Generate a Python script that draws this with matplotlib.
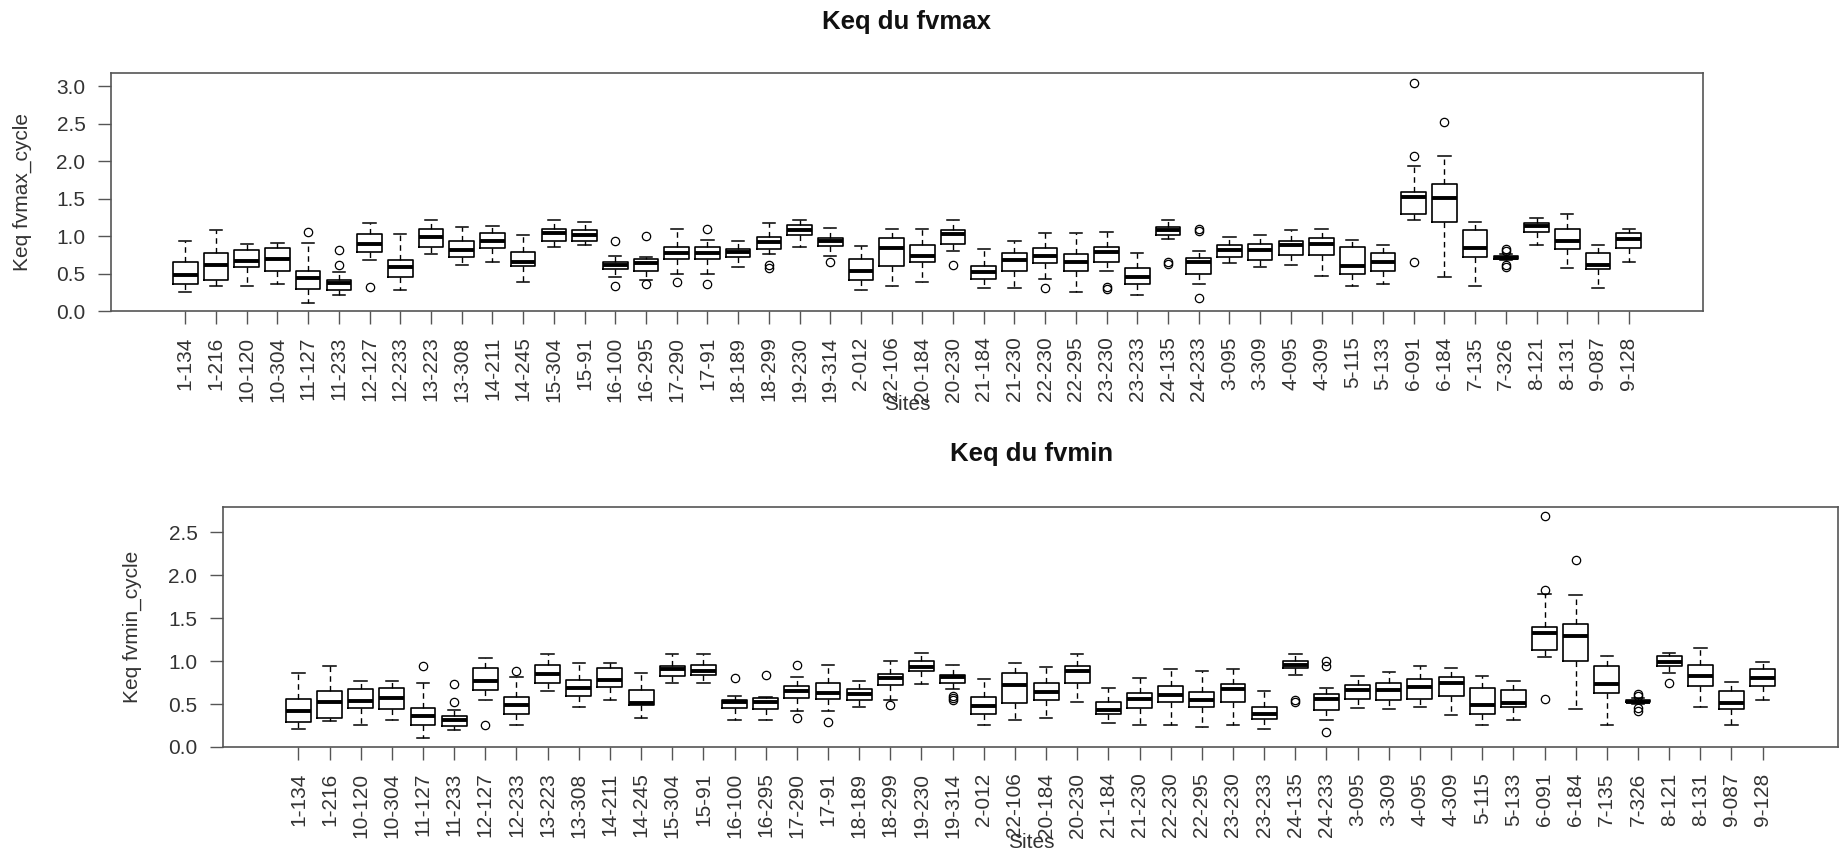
import matplotlib
matplotlib.use("Agg")
import matplotlib.pyplot as plt

plt.rcParams['font.family'] = ['Liberation Sans', 'DejaVu Sans']

sites = ["1-134", "1-216", "10-120", "10-304", "11-127", "11-233", "12-127", "12-233",
         "13-223", "13-308", "14-211", "14-245", "15-304", "15-91", "16-100", "16-295",
         "17-290", "17-91", "18-189", "18-299", "19-230", "19-314", "2-012", "22-106",
         "20-184", "20-230", "21-184", "21-230", "22-230", "22-295", "23-230", "23-233",
         "24-135", "24-233", "3-095", "3-309", "4-095", "4-309", "5-115", "5-133",
         "6-091", "6-184", "7-135", "7-326", "8-121", "8-131", "9-087", "9-128"]

# ---- Keq du fvmax ----
max_wlo = [0.25, 0.34, 0.33, 0.36, 0.11, 0.21, 0.68, 0.28, 0.76, 0.61, 0.66, 0.39, 0.86, 0.88, 0.45, 0.41,
           0.50, 0.50, 0.59, 0.76, 0.86, 0.74, 0.28, 0.34, 0.39, 0.80, 0.31, 0.31, 0.43, 0.25, 0.54, 0.21,
           0.96, 0.36, 0.64, 0.59, 0.62, 0.47, 0.33, 0.36, 1.21, 0.45, 0.33, 0.68, 0.88, 0.57, 0.31, 0.66]
max_q1 = [0.36, 0.42, 0.59, 0.54, 0.30, 0.28, 0.79, 0.45, 0.85, 0.72, 0.84, 0.60, 0.94, 0.94, 0.56, 0.53,
          0.69, 0.69, 0.72, 0.83, 1.02, 0.87, 0.42, 0.60, 0.65, 0.89, 0.43, 0.54, 0.64, 0.54, 0.65, 0.36,
          1.02, 0.50, 0.72, 0.68, 0.75, 0.75, 0.50, 0.54, 1.29, 1.19, 0.72, 0.70, 1.05, 0.83, 0.56, 0.84]
max_med = [0.48, 0.61, 0.67, 0.69, 0.44, 0.37, 0.90, 0.59, 0.99, 0.82, 0.93, 0.65, 1.04, 1.02, 0.62, 0.64,
           0.77, 0.77, 0.79, 0.92, 1.08, 0.93, 0.54, 0.84, 0.73, 1.03, 0.52, 0.68, 0.74, 0.66, 0.79, 0.46,
           1.08, 0.66, 0.82, 0.82, 0.88, 0.90, 0.60, 0.65, 1.52, 1.51, 0.84, 0.71, 1.13, 0.93, 0.62, 0.96]
max_q3 = [0.66, 0.77, 0.82, 0.84, 0.54, 0.41, 1.03, 0.68, 1.10, 0.93, 1.04, 0.79, 1.09, 1.08, 0.66, 0.69,
          0.86, 0.86, 0.83, 0.99, 1.15, 0.98, 0.69, 0.98, 0.88, 1.08, 0.60, 0.77, 0.84, 0.76, 0.86, 0.57,
          1.12, 0.71, 0.88, 0.90, 0.93, 0.97, 0.85, 0.77, 1.59, 1.70, 1.08, 0.73, 1.18, 1.10, 0.77, 1.04]
max_whi = [0.93, 1.08, 0.89, 0.91, 0.91, 0.52, 1.17, 1.03, 1.21, 1.12, 1.14, 1.01, 1.22, 1.19, 0.74, 0.72,
           1.09, 0.95, 0.93, 1.17, 1.22, 1.11, 0.87, 1.10, 1.10, 1.22, 0.83, 0.94, 1.04, 1.04, 1.05, 0.78,
           1.21, 0.80, 0.99, 1.01, 1.08, 1.10, 0.95, 0.88, 1.93, 2.07, 1.19, 0.76, 1.24, 1.30, 0.88, 1.10]
max_out = [[], [], [], [], [1.05], [0.62, 0.82], [0.32], [], [], [], [], [], [], [], [0.94, 0.34], [1.00, 0.36],
           [0.39], [1.10, 0.36], [], [0.61, 0.58], [], [0.65], [], [], [], [0.62], [], [], [0.31], [], [0.32, 0.30], [],
           [0.66, 0.63], [1.10, 1.07, 0.17], [], [], [], [], [], [], [3.04, 2.07, 0.65], [2.53], [], [0.83, 0.80, 0.62, 0.59],
           [], [], [], []]

# ---- Keq du fvmin ----
min_wlo = [0.21, 0.30, 0.26, 0.31, 0.10, 0.20, 0.55, 0.26, 0.65, 0.47, 0.55, 0.34, 0.75, 0.75, 0.32, 0.32,
           0.42, 0.42, 0.47, 0.55, 0.74, 0.68, 0.26, 0.31, 0.34, 0.52, 0.28, 0.26, 0.26, 0.23, 0.26, 0.21,
           0.84, 0.31, 0.46, 0.44, 0.47, 0.37, 0.26, 0.32, 1.05, 0.44, 0.26, 0.50, 0.86, 0.47, 0.26, 0.55]
min_q1 = [0.29, 0.34, 0.45, 0.44, 0.26, 0.25, 0.67, 0.39, 0.75, 0.59, 0.70, 0.49, 0.83, 0.84, 0.45, 0.44,
          0.57, 0.56, 0.55, 0.72, 0.89, 0.75, 0.39, 0.51, 0.55, 0.75, 0.38, 0.46, 0.53, 0.47, 0.53, 0.33,
          0.92, 0.43, 0.56, 0.55, 0.56, 0.59, 0.39, 0.47, 1.13, 1.00, 0.63, 0.52, 0.94, 0.71, 0.44, 0.71]
min_med = [0.42, 0.52, 0.54, 0.57, 0.36, 0.31, 0.77, 0.49, 0.85, 0.69, 0.78, 0.51, 0.91, 0.89, 0.52, 0.53,
           0.65, 0.63, 0.62, 0.80, 0.93, 0.82, 0.48, 0.72, 0.64, 0.89, 0.43, 0.56, 0.61, 0.55, 0.68, 0.38,
           0.96, 0.56, 0.67, 0.66, 0.70, 0.75, 0.49, 0.51, 1.33, 1.29, 0.74, 0.53, 0.99, 0.83, 0.51, 0.80]
min_q3 = [0.56, 0.65, 0.68, 0.69, 0.45, 0.36, 0.92, 0.58, 0.96, 0.78, 0.92, 0.67, 0.94, 0.96, 0.55, 0.57,
          0.71, 0.75, 0.68, 0.85, 1.00, 0.84, 0.58, 0.86, 0.75, 0.94, 0.52, 0.63, 0.71, 0.64, 0.73, 0.47,
          1.00, 0.62, 0.72, 0.75, 0.79, 0.82, 0.69, 0.67, 1.40, 1.43, 0.94, 0.55, 1.06, 0.96, 0.65, 0.91]
min_whi = [0.86, 0.94, 0.77, 0.77, 0.75, 0.43, 1.04, 0.82, 1.08, 0.98, 0.98, 0.86, 1.08, 1.08, 0.60, 0.58,
           0.81, 0.96, 0.77, 1.00, 1.09, 0.96, 0.79, 0.98, 0.93, 1.08, 0.69, 0.80, 0.91, 0.89, 0.91, 0.65,
           1.08, 0.69, 0.83, 0.87, 0.94, 0.92, 0.83, 0.77, 1.78, 1.77, 1.06, 0.57, 1.09, 1.15, 0.76, 0.99]
min_out = [[], [], [], [], [0.94], [0.52, 0.74], [0.26], [0.88], [], [], [], [], [], [], [0.80], [0.84],
           [0.96, 0.34], [0.29], [], [0.49], [], [0.60, 0.57, 0.55], [], [], [], [], [], [], [], [], [], [],
           [0.55, 0.53], [1.00, 0.94, 0.17], [], [], [], [], [], [], [2.69, 1.83, 0.56], [2.18], [], [0.62, 0.60, 0.45, 0.42],
           [0.75], [], [], []]

TXT = '#333333'
FRAME = '#555555'


def make_stats(wlo, q1, med, q3, whi, out):
    stats = []
    for i in range(len(sites)):
        stats.append(dict(whislo=wlo[i], q1=q1[i], med=med[i], q3=q3[i],
                          whishi=whi[i], fliers=out[i], label=sites[i]))
    return stats


def draw(ax, stats, ylim, yticks):
    ax.bxp(stats, positions=range(1, len(sites) + 1), widths=0.8, capwidths=0.4,
           boxprops=dict(color='black', linewidth=1.2),
           medianprops=dict(color='black', linewidth=2.8, solid_capstyle='butt'),
           whiskerprops=dict(color='black', linewidth=1.0, linestyle=(0, (4, 3))),
           capprops=dict(color='black', linewidth=1.1),
           flierprops=dict(marker='o', markerfacecolor='none', markeredgecolor='black',
                           markersize=6, markeredgewidth=0.9))
    n = len(sites)
    ax.set_xlim(0.5 - 0.04 * n, n + 0.5 + 0.04 * n)
    ax.set_ylim(*ylim)
    ax.set_yticks(yticks)
    ax.set_yticklabels([f"{v:.1f}" for v in yticks])
    ax.set_xticks(range(1, n + 1))
    ax.set_xticklabels(sites, rotation=90)
    ax.tick_params(axis='both', direction='out', length=9.4, width=1.0, color=FRAME,
                   labelcolor=TXT, labelsize=15, pad=9)
    for s in ax.spines.values():
        s.set_color(FRAME)
        s.set_linewidth(1.2)


fig = plt.figure(figsize=(18.43, 8.5), dpi=100)

ax1 = fig.add_axes([111 / 1843, 1 - 311 / 850, (1703 - 111) / 1843, (311 - 73) / 850])
draw(ax1, make_stats(max_wlo, max_q1, max_med, max_q3, max_whi, max_out),
     (0, 3.178), [0.0, 0.5, 1.0, 1.5, 2.0, 2.5, 3.0])

ax2 = fig.add_axes([223 / 1843, 1 - 747 / 850, (1838 - 223) / 1843, (747 - 507) / 850])
draw(ax2, make_stats(min_wlo, min_q1, min_med, min_q3, min_whi, min_out),
     (0, 2.797), [0.0, 0.5, 1.0, 1.5, 2.0, 2.5])

fig.text(907 / 1843, 1 - 22 / 850, "Keq du fvmax", ha='center', va='center',
         fontsize=18.5, fontweight='bold', color='#111111')
fig.text(1032 / 1843, 1 - 454 / 850, "Keq du fvmin", ha='center', va='center',
         fontsize=18.5, fontweight='bold', color='#111111')
fig.text(907 / 1843, 1 - 404 / 850, "Sites", ha='center', va='center', fontsize=15, color=TXT)
fig.text(1031 / 1843, 1 - 842 / 850, "Sites", ha='center', va='center', fontsize=15, color=TXT)
fig.text(22 / 1843, 1 - 192 / 850, "Keq fvmax_cycle", ha='center', va='center',
         rotation=90, fontsize=15, color=TXT)
fig.text(132 / 1843, 1 - 627 / 850, "Keq fvmin_cycle", ha='center', va='center',
         rotation=90, fontsize=15, color=TXT)

fig.savefig("out.png", dpi=100, facecolor='white')
